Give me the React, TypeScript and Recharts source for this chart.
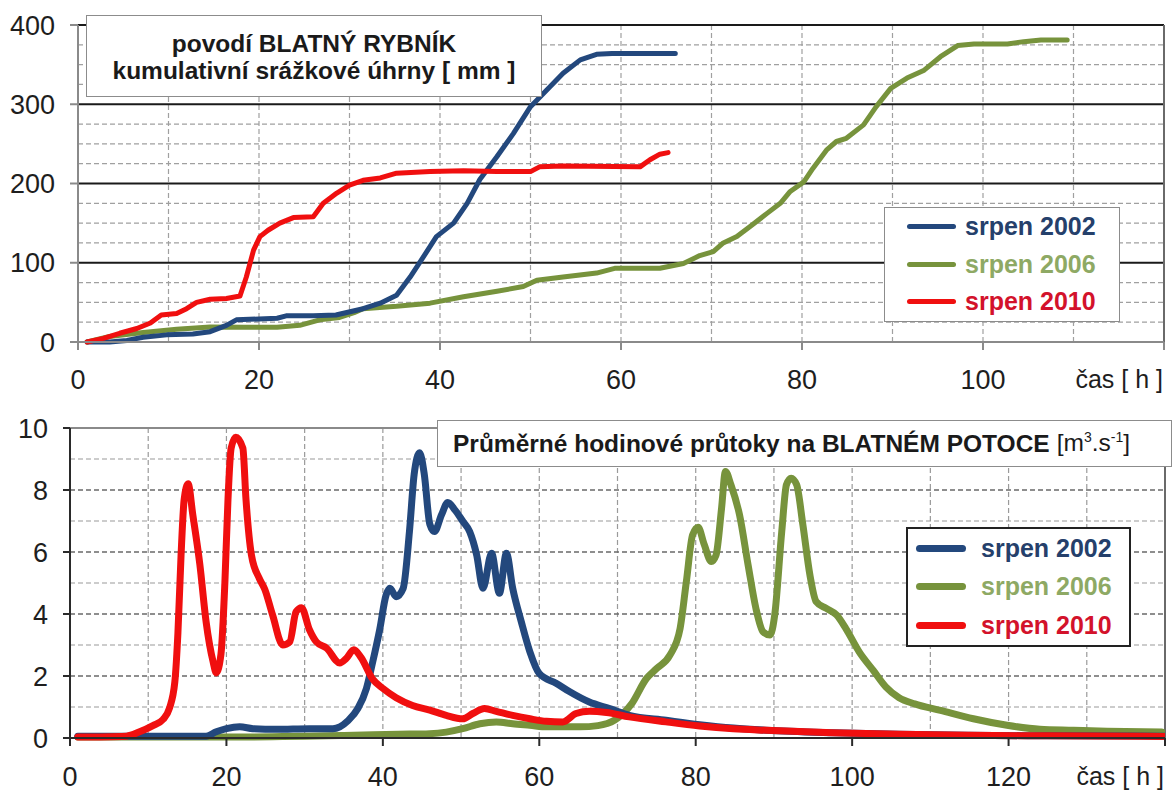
import React from 'react';
import { LineChart, Line, XAxis, YAxis, CartesianGrid, ReferenceLine, Legend } from 'recharts';

const FONT = '"Liberation Sans", Arial, Helvetica, sans-serif';

// ---------- categories / labels ----------
const seriesNames = ['srpen 2002', 'srpen 2006', 'srpen 2010'];
const lineColors: Record<string, string> = {
  'srpen 2002': '#23487D',
  'srpen 2006': '#77933C',
  'srpen 2010': '#F00F0F',
};
const legendTextColors: Record<string, string> = {
  'srpen 2002': '#25406B',
  'srpen 2006': '#8EA964',
  'srpen 2010': '#D3122B',
};
const rainTitle1 = 'povodí BLATNÝ RYBNÍK';
const rainTitle2 = 'kumulativní srážkové úhrny [ mm ]';
const flowTitleMain = 'Průměrné hodinové průtoky na BLATNÉM POTOCE';
const axisUnitLabel = 'čas [ h ]';

// ---------- axis ticks ----------
const rainTicksX = [0, 20, 40, 60, 80, 100, 120];
const rainTicksY = [0, 100, 200, 300, 400];
const rainMajorY = [100, 200, 300, 400];
const rainMinorY = [25, 50, 75, 125, 150, 175, 225, 250, 275, 325, 350, 375];
const rainMinorX = [10, 20, 30, 40, 50, 60, 70, 80, 90, 100, 110];

const flowTicksX = [0, 20, 40, 60, 80, 100, 120, 140];
const flowTicksY = [0, 2, 4, 6, 8, 10];
const flowEvenY = [2, 4, 6, 8];
const flowOddY = [1, 3, 5, 7, 9];
const flowMinorX = [10, 20, 30, 40, 50, 60, 70, 80, 90, 100, 110, 120, 130];

// ---------- cumulative rainfall [mm] : [hour, value] ----------
const rain2002: [number, number][] = [
  [1, 0], [3.5, 0], [5.4, 2], [7.2, 6], [9.8, 9], [12.7, 10], [14.6, 13], [16.4, 21], [17.5, 28],
  [20, 29], [22, 30], [23, 33], [26, 33], [28.5, 34], [31.5, 42], [33.4, 49], [35.2, 59], [36.7, 82],
  [38.2, 108], [39.6, 133], [41.5, 150], [43, 175], [44.4, 205], [46.3, 234], [48.1, 263], [50, 297],
  [51.8, 318], [53.6, 339], [55.5, 356], [57.3, 363], [59, 364], [66, 364],
];
const rain2006: [number, number][] = [
  [1, 0], [3.5, 7], [7.2, 12], [10.9, 16], [14.6, 19], [18.3, 18.5], [22, 18.5], [24.5, 21], [26.7, 28],
  [28.9, 31], [30.5, 37], [31.5, 42], [35.2, 45], [38.9, 49], [42.6, 57], [46.3, 64], [49.2, 70],
  [50.7, 78], [53.6, 82], [57.3, 87], [59.3, 93], [64.3, 93], [66.9, 99], [68.7, 109], [70.2, 114],
  [71.3, 125], [72.8, 133], [74.3, 146], [76.1, 162], [77.6, 175], [78.7, 190], [80.2, 202], [81.2, 219],
  [82.7, 242], [83.8, 253], [84.9, 257], [86.8, 274], [88.2, 297], [89.8, 320], [91.6, 333], [93.5, 343],
  [95.3, 360], [97.2, 374], [99, 376], [102.7, 376], [104.5, 379], [106.4, 381], [109.3, 381],
];
const rain2010: [number, number][] = [
  [1, 0], [2.8, 4.6], [4.6, 11], [6.5, 17], [8, 24], [9.2, 34], [10.9, 36], [12, 42], [13.1, 50],
  [14.6, 54], [16.4, 55], [17.9, 58], [18.6, 82], [19.4, 116], [20.1, 133], [21, 141], [22.3, 150],
  [23.8, 157], [26, 158], [27.1, 175], [28.6, 188], [30, 198], [31.5, 204], [33.4, 207], [35.2, 213],
  [38.9, 215], [42.6, 216], [46.3, 215], [50, 215], [51, 221], [53.6, 222], [62.1, 221], [63.2, 230],
  [64.3, 237], [65.2, 239],
];

// ---------- hourly discharge [m3/s] : [hour, value] ----------
const flow2002: [number, number][] = [
  [1, 0.06], [10, 0.06], [17.4, 0.06], [18.7, 0.2], [20, 0.3], [21.7, 0.36], [23.4, 0.3], [26.4, 0.28],
  [30.6, 0.3], [33.6, 0.3], [34.5, 0.36], [35.5, 0.55], [36.8, 0.95], [37.9, 1.6], [38.7, 2.45],
  [39.6, 3.5], [40.4, 4.6], [40.9, 4.83], [41.7, 4.56], [42.6, 4.83], [43.4, 6.66], [44, 8.5],
  [44.7, 9.2], [45.3, 8.5], [46, 6.9], [46.6, 6.66], [47.5, 7.2], [48.3, 7.6], [49.2, 7.36],
  [50.2, 7.0], [51.1, 6.66], [52, 5.9], [52.8, 4.83], [53.9, 5.96], [54.9, 4.67], [55.8, 5.96],
  [56.6, 4.83], [57.7, 3.75], [58.8, 2.78], [60, 2.08], [62.2, 1.76], [63.9, 1.49], [66.4, 1.16],
  [69, 0.95], [71.5, 0.73], [76.2, 0.57], [80.5, 0.43], [84.8, 0.32], [89, 0.25], [97.5, 0.17],
  [106, 0.12], [115, 0.09], [125, 0.07], [140, 0.06],
];
const flow2006: [number, number][] = [
  [1, 0.03], [20, 0.03], [35, 0.08], [42, 0.12], [46, 0.14], [48.1, 0.19], [50.2, 0.3], [52.4, 0.46],
  [54.5, 0.52], [56.6, 0.46], [58.8, 0.41], [61, 0.36], [65.2, 0.36], [67.5, 0.4], [69.6, 0.57],
  [71.8, 1.1], [73.7, 1.92], [75, 2.24], [76.7, 2.67], [78, 3.53], [78.8, 5.04], [79.6, 6.55],
  [80.3, 6.8], [81.1, 6.23], [82, 5.69], [82.6, 5.9], [83.3, 7.4], [83.8, 8.6], [84.5, 8.17],
  [85.6, 7.2], [86.7, 5.58], [87.7, 4.18], [88.6, 3.43], [89.5, 3.32], [90.1, 3.97], [91, 6.66],
  [91.6, 8.17], [92.2, 8.38], [92.9, 8.17], [93.7, 6.88], [94.6, 5.26], [95.4, 4.4], [96.7, 4.18],
  [98, 3.97], [99.2, 3.53], [100.9, 2.78], [102.7, 2.18], [104.3, 1.65], [106, 1.3], [108, 1.1],
  [111.3, 0.89], [115.5, 0.62], [119.8, 0.41], [124, 0.28], [128.3, 0.25], [132.6, 0.22], [139.6, 0.19],
];
const flow2010: [number, number][] = [
  [1, 0.03], [7.2, 0.06], [8.9, 0.2], [10.6, 0.4], [11.9, 0.6], [12.7, 0.95], [13.4, 1.8], [13.8, 3.4],
  [14.2, 5.9], [14.6, 7.7], [15.1, 8.2], [15.7, 7.2], [16.6, 5.6], [17.4, 3.75], [18.3, 2.45],
  [18.7, 2.1], [19.3, 2.7], [19.8, 5.0], [20.2, 7.7], [20.6, 9.35], [21.2, 9.7], [22.1, 9.35],
  [22.5, 7.7], [23.2, 5.9], [24.2, 5.15], [24.9, 4.8], [25.9, 3.97], [27.2, 3.0], [28.1, 3.1],
  [28.9, 4.07], [29.6, 4.2], [30.6, 3.5], [31.5, 3.1], [32.8, 2.9], [34.5, 2.42], [35.3, 2.56],
  [36.3, 2.85], [37.2, 2.6], [38.7, 1.9], [40, 1.6], [41.7, 1.3], [43.8, 1.05], [46, 0.9], [48.1, 0.73],
  [50.2, 0.62], [51.5, 0.79], [53, 0.95], [54.5, 0.86], [56.6, 0.73], [58.8, 0.62], [60.9, 0.54],
  [63, 0.52], [64.7, 0.79], [66.4, 0.86], [68.6, 0.82], [71.5, 0.68], [76.2, 0.52], [80.5, 0.39],
  [84.8, 0.3], [89, 0.25], [97.5, 0.17], [106, 0.12], [115, 0.09], [125, 0.07], [140, 0.05],
];

const toPoints = (pairs: [number, number][]) => pairs.map(([h, v]) => ({ h, v }));

const rainSeries = [
  { name: 'srpen 2006', data: toPoints(rain2006) },
  { name: 'srpen 2002', data: toPoints(rain2002) },
  { name: 'srpen 2010', data: toPoints(rain2010) },
];
const flowSeries = [
  { name: 'srpen 2006', data: toPoints(flow2006) },
  { name: 'srpen 2002', data: toPoints(flow2002) },
  { name: 'srpen 2010', data: toPoints(flow2010) },
];

const TICK_FS = 27;

const makeXTick = (max: number) => (props: any) => {
  const { x, y, payload } = props;
  const last = payload.value === max;
  return (
    <text
      x={last ? x - 1 : x}
      y={y}
      dy="0.71em"
      textAnchor={last ? 'end' : 'middle'}
      fill="#1e1e1e"
      fontSize={last ? 25 : TICK_FS}
      fontFamily={FONT}
    >
      {last ? axisUnitLabel : payload.value}
    </text>
  );
};

const yTickStyle = { fill: '#1e1e1e', fontSize: TICK_FS, fontFamily: FONT };

type LegendBox = {
  w: number; h: number; border: string; padLeft: number; rowH: number;
  lineW: number; lineH: number; gap: number;
};

const makeLegend = (box: LegendBox) => (props: any) => {
  const items = [...(props.payload || [])].sort(
    (a: any, b: any) => seriesNames.indexOf(a.value) - seriesNames.indexOf(b.value)
  );
  return (
    <div
      style={{
        width: box.w,
        height: box.h,
        boxSizing: 'border-box',
        border: box.border,
        background: '#fff',
        paddingLeft: box.padLeft,
        fontFamily: FONT,
      }}
    >
      {items.map((it: any) => (
        <div key={it.value} style={{ display: 'flex', alignItems: 'center', height: box.rowH }}>
          <span
            style={{
              display: 'inline-block',
              width: box.lineW,
              height: box.lineH,
              background: it.color,
              borderRadius: box.lineH / 2,
            }}
          />
          <span
            style={{
              marginLeft: box.gap,
              color: legendTextColors[it.value],
              fontWeight: 'bold',
              fontSize: 25,
              lineHeight: 1,
              whiteSpace: 'nowrap',
            }}
          >
            {it.value}
          </span>
        </div>
      ))}
    </div>
  );
};

export default function App() {
  return (
    <div
      style={{
        position: 'absolute',
        left: 0,
        top: 0,
        width: 1174,
        height: 792,
        background: '#fff',
        fontFamily: FONT,
        overflow: 'hidden',
      }}
    >
      {/* ---------------- TOP: cumulative rainfall ---------------- */}
      <div style={{ position: 'absolute', left: 0, top: 0 }}>
        <LineChart width={1174} height={400} margin={{ top: 25, right: 10, bottom: 0, left: 0 }}>
          <CartesianGrid
            horizontalValues={rainMinorY}
            verticalValues={rainMinorX}
            stroke="#a0a0a0"
            strokeDasharray="5 3"
            strokeWidth={1.2}
          />
          <XAxis
            type="number"
            dataKey="h"
            domain={[0, 120]}
            ticks={rainTicksX}
            interval={0}
            height={58}
            tickSize={8}
            tickMargin={20}
            tick={makeXTick(120)}
            stroke="#8a8a8a"
            strokeWidth={2}
            allowDataOverflow
          />
          <YAxis
            type="number"
            domain={[0, 400]}
            ticks={rainTicksY}
            interval={0}
            width={78}
            tickSize={8}
            tickMargin={15}
            tick={yTickStyle}
            stroke="#8a8a8a"
            strokeWidth={2}
          />
          {rainMajorY.map((v) => (
            <ReferenceLine key={v} y={v} stroke="#1a1a1a" strokeWidth={2} />
          ))}
          <ReferenceLine x={120} stroke="#6a6a6a" strokeWidth={2} />
          {rainSeries.map((s) => (
            <Line
              key={s.name}
              data={s.data}
              dataKey="v"
              name={s.name}
              type="linear"
              stroke={lineColors[s.name]}
              strokeWidth={5}
              strokeLinecap="round"
              strokeLinejoin="round"
              dot={false}
              activeDot={false}
              isAnimationActive={false}
            />
          ))}
          <Legend
            layout="vertical"
            align="center"
            verticalAlign="middle"
            wrapperStyle={{ left: 884, top: 207, width: 236, height: 115 }}
            content={makeLegend({
              w: 236, h: 115, border: '1.5px solid #8c8c8c', padLeft: 22, rowH: 37.5,
              lineW: 49, lineH: 5, gap: 9,
            })}
          />
        </LineChart>
      </div>

      {/* ---------------- BOTTOM: hourly discharge ---------------- */}
      <div style={{ position: 'absolute', left: 0, top: 400 }}>
        <LineChart width={1174} height={392} margin={{ top: 28, right: 9, bottom: 0, left: 0 }}>
          <CartesianGrid
            horizontalValues={flowOddY}
            verticalValues={flowMinorX}
            stroke="#9a9a9a"
            strokeDasharray="5 3"
            strokeWidth={1.2}
          />
          <XAxis
            type="number"
            dataKey="h"
            domain={[0, 140]}
            ticks={flowTicksX}
            interval={0}
            height={54}
            tickSize={8}
            tickMargin={21}
            tick={makeXTick(140)}
            stroke="#2a2a2a"
            strokeWidth={2}
            allowDataOverflow
          />
          <YAxis
            type="number"
            domain={[0, 10]}
            ticks={flowTicksY}
            interval={0}
            width={70}
            tickSize={7}
            tickMargin={15}
            tick={yTickStyle}
            stroke="#2a2a2a"
            strokeWidth={2}
          />
          {flowEvenY.map((v) => (
            <ReferenceLine key={v} y={v} stroke="#6a6a6a" strokeWidth={1.4} strokeDasharray="5 3" />
          ))}
          <ReferenceLine y={10} stroke="#8a8a8a" strokeWidth={2} />
          <ReferenceLine x={140} stroke="#6a6a6a" strokeWidth={2} />
          {flowSeries.map((s) => (
            <Line
              key={s.name}
              data={s.data}
              dataKey="v"
              name={s.name}
              type="monotone"
              stroke={lineColors[s.name]}
              strokeWidth={7}
              strokeLinecap="round"
              strokeLinejoin="round"
              dot={false}
              activeDot={false}
              isAnimationActive={false}
            />
          ))}
          <Legend
            layout="vertical"
            align="center"
            verticalAlign="middle"
            wrapperStyle={{ left: 906, top: 127, width: 225, height: 120 }}
            content={makeLegend({
              w: 225, h: 120, border: '2px solid #222', padLeft: 8, rowH: 38.5,
              lineW: 50, lineH: 7, gap: 15,
            })}
          />
        </LineChart>
      </div>

      {/* ---------------- title boxes ---------------- */}
      <div
        style={{
          position: 'absolute',
          left: 86,
          top: 15,
          width: 456,
          height: 82,
          boxSizing: 'border-box',
          border: '1.5px solid #8c8c8c',
          background: '#fff',
          display: 'flex',
          flexDirection: 'column',
          alignItems: 'center',
          justifyContent: 'center',
          paddingTop: 2,
          fontWeight: 'bold',
          fontSize: 24.5,
          lineHeight: '27px',
          color: '#1a1a1a',
          zIndex: 5,
        }}
      >
        <div>{rainTitle1}</div>
        <div>{rainTitle2}</div>
      </div>
      <div
        style={{
          position: 'absolute',
          left: 437,
          top: 420,
          width: 735,
          height: 47,
          boxSizing: 'border-box',
          border: '1.5px solid #8c8c8c',
          background: '#fff',
          display: 'flex',
          alignItems: 'center',
          paddingLeft: 15,
          fontSize: 24.5,
          color: '#1a1a1a',
          whiteSpace: 'nowrap',
          zIndex: 5,
        }}
      >
        <span style={{ fontWeight: 'bold' }}>{flowTitleMain}</span>
        <span style={{ marginLeft: 7 }}>
          [m<sup style={{ fontSize: 14 }}>3</sup>.s<sup style={{ fontSize: 14 }}>-1</sup>]
        </span>
      </div>
    </div>
  );
}
